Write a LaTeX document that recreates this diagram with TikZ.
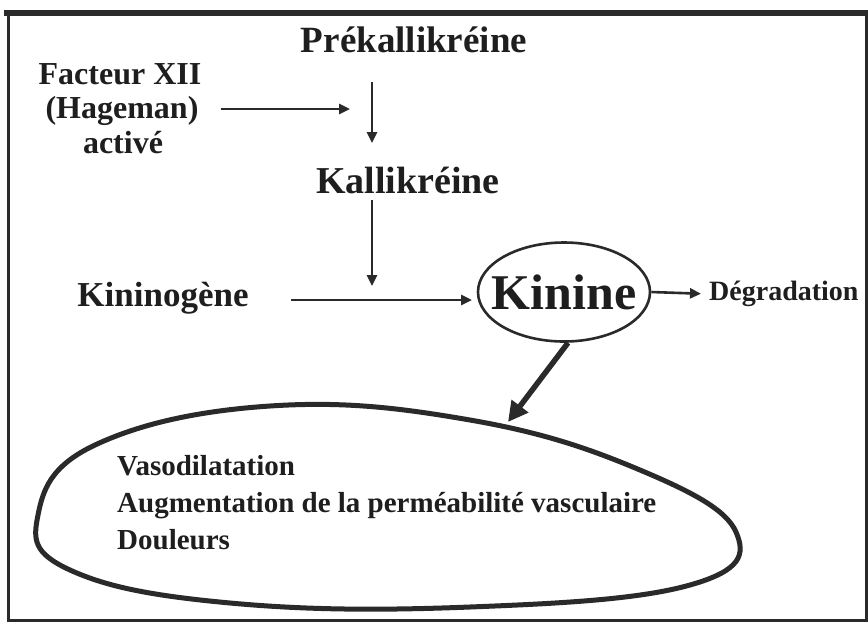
\documentclass[tikz,border=0pt]{standalone}
\usepackage{fontspec}
\setmainfont{Liberation Serif}
\usetikzlibrary{arrows.meta,shapes.geometric}
\definecolor{ink}{HTML}{2A2A2A}
\definecolor{txt}{HTML}{1E1E1E}
\begin{document}
\begin{tikzpicture}[x=1pt,y=-1pt,
  lbl/.style={inner sep=0pt, text=txt, font=\bfseries\fontsize{37}{40}\selectfont},
  side/.style={inner sep=0pt, text=txt, anchor=base, font=\bfseries\fontsize{32}{36}\selectfont},
  arr/.style={draw=ink, line width=2.6pt, -{Triangle[length=11pt,width=10pt]}},
  thickarr/.style={draw=ink, line width=5.5pt, -{Triangle[length=20pt,width=20pt]}},
  frame/.style={draw=ink, line width=3pt}]
\useasboundingbox (0,0) rectangle (868,625);
\fill[white] (0,0) rectangle (868,625);
% frame
\draw[frame] (8,12) -- (8,620) -- (866,620) -- (866,12);
\draw[ink, line width=6pt] (4,13) -- (868,13);
% nodes
\node[lbl] (prek) at (414,40) {Prékallikréine};
\node[side] (fxii) at (120,84) {Facteur XII};
\node[side] (hag) at (122,118) {(Hageman)};
\node[side] (act) at (123,153) {activé};
\node[lbl, font=\bfseries\fontsize{38}{40}\selectfont] (kall) at (408,180) {Kallikréine};
\node[lbl, font=\bfseries\fontsize{35}{40}\selectfont] (kino) at (163,298) {Kininogène};
\node[draw=ink, line width=2.6pt, ellipse, minimum width=172pt, minimum height=99pt, inner sep=0pt,
      text=txt, font=\bfseries\fontsize{50}{54}\selectfont] (kin) at (564,292) {\makebox[100pt]{Kinine}};
\node[lbl, font=\bfseries\fontsize{28}{30}\selectfont, anchor=west] (degr) at (709,294) {Dégradation};
% coordinates
\coordinate (meet) at (372,109);
\coordinate (v1a) at (372,82);
\coordinate (v1b) at (372,143);
\coordinate (v2a) at (372,200);
\coordinate (v2b) at (372,286);
\coordinate (kinin) at (472,300);
\coordinate (effTop) at (508,422);
% connectors
\draw[arr, shorten <=22pt, shorten >=22pt] (hag.east |- meet) -- (meet);
\draw[arr] (v1a) -- (v1b);
\draw[arr] (v2a) -- (v2b);
\draw[arr, shorten <=42pt] (kino.east |- kinin) -- (kinin);
\draw[arr, shorten >=8pt] (kin.east) -- (degr.west);
\draw[thickarr] (kin.south) ++(4,0) -- (effTop);
% effects ellipse
\draw[ink, line width=5pt] plot[smooth cycle, tension=0.7] coordinates
  {(38,515) (95,445) (270,406) (470,420) (640,470) (736,532) (690,585) (470,607) (230,603) (70,570)};
\node[lbl, anchor=north west, align=left, font=\bfseries\fontsize{29}{37}\selectfont] (eff) at (117,455)
  {Vasodilatation\\Augmentation de la perméabilité vasculaire\\Douleurs};
\end{tikzpicture}
\end{document}
